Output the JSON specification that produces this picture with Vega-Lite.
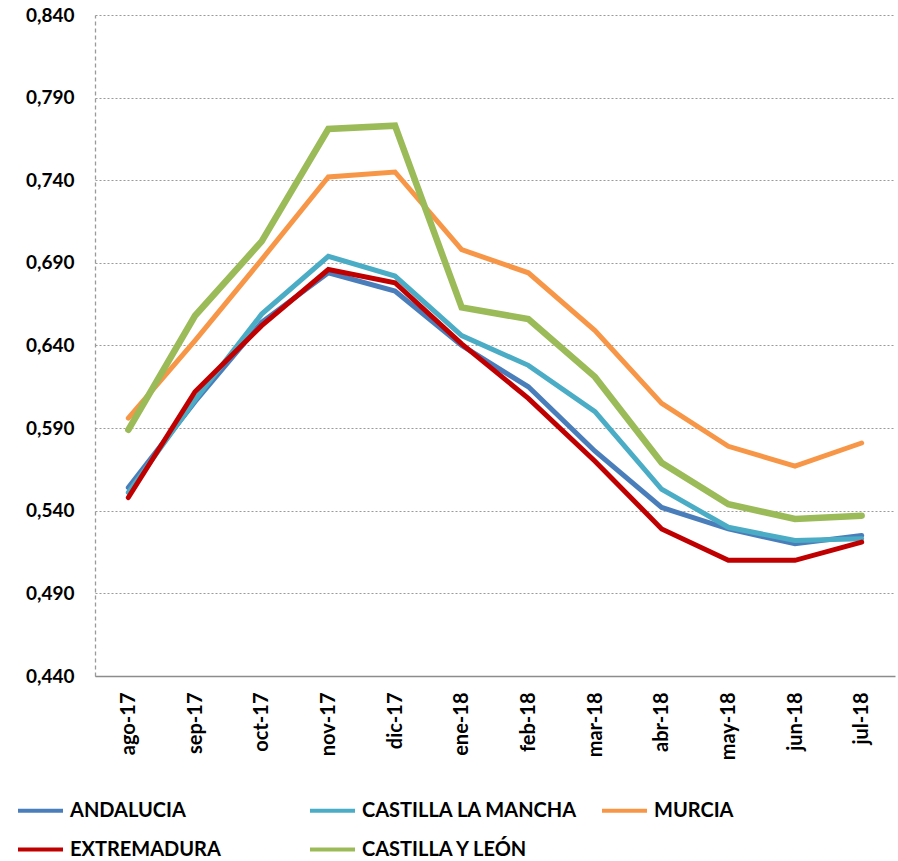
{
  "$schema": "https://vega.github.io/schema/vega-lite/v6.json",
  "width": 800,
  "height": 661,
  "autosize": {"type": "none"},
  "padding": {"left": 95, "top": 15, "right": 3, "bottom": 185},
  "background": "white",
  "config": {
    "view": {"stroke": null},
    "font": "Lato"
  },
  "data": {
    "values": [
      {"mes": "ago-17", "region": "ANDALUCIA", "valor": 0.554},
      {"mes": "sep-17", "region": "ANDALUCIA", "valor": 0.606},
      {"mes": "oct-17", "region": "ANDALUCIA", "valor": 0.654},
      {"mes": "nov-17", "region": "ANDALUCIA", "valor": 0.684},
      {"mes": "dic-17", "region": "ANDALUCIA", "valor": 0.673},
      {"mes": "ene-18", "region": "ANDALUCIA", "valor": 0.640},
      {"mes": "feb-18", "region": "ANDALUCIA", "valor": 0.615},
      {"mes": "mar-18", "region": "ANDALUCIA", "valor": 0.576},
      {"mes": "abr-18", "region": "ANDALUCIA", "valor": 0.542},
      {"mes": "may-18", "region": "ANDALUCIA", "valor": 0.529},
      {"mes": "jun-18", "region": "ANDALUCIA", "valor": 0.520},
      {"mes": "jul-18", "region": "ANDALUCIA", "valor": 0.525},
      {"mes": "ago-17", "region": "CASTILLA LA MANCHA", "valor": 0.551},
      {"mes": "sep-17", "region": "CASTILLA LA MANCHA", "valor": 0.607},
      {"mes": "oct-17", "region": "CASTILLA LA MANCHA", "valor": 0.659},
      {"mes": "nov-17", "region": "CASTILLA LA MANCHA", "valor": 0.694},
      {"mes": "dic-17", "region": "CASTILLA LA MANCHA", "valor": 0.682},
      {"mes": "ene-18", "region": "CASTILLA LA MANCHA", "valor": 0.646},
      {"mes": "feb-18", "region": "CASTILLA LA MANCHA", "valor": 0.628},
      {"mes": "mar-18", "region": "CASTILLA LA MANCHA", "valor": 0.600},
      {"mes": "abr-18", "region": "CASTILLA LA MANCHA", "valor": 0.553},
      {"mes": "may-18", "region": "CASTILLA LA MANCHA", "valor": 0.530},
      {"mes": "jun-18", "region": "CASTILLA LA MANCHA", "valor": 0.522},
      {"mes": "jul-18", "region": "CASTILLA LA MANCHA", "valor": 0.523},
      {"mes": "ago-17", "region": "MURCIA", "valor": 0.596},
      {"mes": "sep-17", "region": "MURCIA", "valor": 0.643},
      {"mes": "oct-17", "region": "MURCIA", "valor": 0.692},
      {"mes": "nov-17", "region": "MURCIA", "valor": 0.742},
      {"mes": "dic-17", "region": "MURCIA", "valor": 0.745},
      {"mes": "ene-18", "region": "MURCIA", "valor": 0.698},
      {"mes": "feb-18", "region": "MURCIA", "valor": 0.684},
      {"mes": "mar-18", "region": "MURCIA", "valor": 0.649},
      {"mes": "abr-18", "region": "MURCIA", "valor": 0.605},
      {"mes": "may-18", "region": "MURCIA", "valor": 0.579},
      {"mes": "jun-18", "region": "MURCIA", "valor": 0.567},
      {"mes": "jul-18", "region": "MURCIA", "valor": 0.581},
      {"mes": "ago-17", "region": "EXTREMADURA", "valor": 0.548},
      {"mes": "sep-17", "region": "EXTREMADURA", "valor": 0.612},
      {"mes": "oct-17", "region": "EXTREMADURA", "valor": 0.652},
      {"mes": "nov-17", "region": "EXTREMADURA", "valor": 0.686},
      {"mes": "dic-17", "region": "EXTREMADURA", "valor": 0.678},
      {"mes": "ene-18", "region": "EXTREMADURA", "valor": 0.641},
      {"mes": "feb-18", "region": "EXTREMADURA", "valor": 0.608},
      {"mes": "mar-18", "region": "EXTREMADURA", "valor": 0.570},
      {"mes": "abr-18", "region": "EXTREMADURA", "valor": 0.529},
      {"mes": "may-18", "region": "EXTREMADURA", "valor": 0.510},
      {"mes": "jun-18", "region": "EXTREMADURA", "valor": 0.510},
      {"mes": "jul-18", "region": "EXTREMADURA", "valor": 0.521},
      {"mes": "ago-17", "region": "CASTILLA Y LEÓN", "valor": 0.589},
      {"mes": "sep-17", "region": "CASTILLA Y LEÓN", "valor": 0.658},
      {"mes": "oct-17", "region": "CASTILLA Y LEÓN", "valor": 0.703},
      {"mes": "nov-17", "region": "CASTILLA Y LEÓN", "valor": 0.771},
      {"mes": "dic-17", "region": "CASTILLA Y LEÓN", "valor": 0.773},
      {"mes": "ene-18", "region": "CASTILLA Y LEÓN", "valor": 0.663},
      {"mes": "feb-18", "region": "CASTILLA Y LEÓN", "valor": 0.656},
      {"mes": "mar-18", "region": "CASTILLA Y LEÓN", "valor": 0.621},
      {"mes": "abr-18", "region": "CASTILLA Y LEÓN", "valor": 0.569},
      {"mes": "may-18", "region": "CASTILLA Y LEÓN", "valor": 0.544},
      {"mes": "jun-18", "region": "CASTILLA Y LEÓN", "valor": 0.535},
      {"mes": "jul-18", "region": "CASTILLA Y LEÓN", "valor": 0.537}
    ]
  },
  "encoding": {
    "x": {
      "field": "mes",
      "type": "ordinal",
      "sort": ["ago-17", "sep-17", "oct-17", "nov-17", "dic-17", "ene-18", "feb-18", "mar-18", "abr-18", "may-18", "jun-18", "jul-18"],
      "scale": {"type": "point", "padding": 0.5},
      "axis": {
        "title": null,
        "labelAngle": -90,
        "labelFont": "Lato",
        "labelFontWeight": "bold",
        "labelFontSize": 20,
        "labelColor": "#000000",
        "labelPadding": 16,
        "ticks": false,
        "grid": false,
        "domainColor": "#8c8c8c",
        "domainWidth": 1.5
      }
    },
    "y": {
      "field": "valor",
      "type": "quantitative",
      "scale": {"domain": [0.44, 0.84], "nice": false, "zero": false},
      "axis": {
        "title": null,
        "values": [0.44, 0.49, 0.54, 0.59, 0.64, 0.69, 0.74, 0.79, 0.84],
        "labelExpr": "replace(format(datum.value, '.3f'), '.', ',')",
        "labelFont": "Lato",
        "labelFontWeight": "bold",
        "labelFontSize": 19,
        "labelColor": "#000000",
        "labelPadding": 21,
        "ticks": false,
        "grid": true,
        "gridColor": "#9a9a9a",
        "gridDash": [2, 2],
        "gridWidth": 1.2,
        "domainColor": "#9a9a9a",
        "domainDash": [4, 3],
        "domainWidth": 1.3
      }
    },
    "color": {
      "field": "region",
      "type": "nominal",
      "scale": {
        "domain": ["ANDALUCIA", "CASTILLA LA MANCHA", "MURCIA", "EXTREMADURA", "CASTILLA Y LEÓN"],
        "range": ["#4a7ebb", "#4bacc6", "#f79646", "#c00000", "#9bbb59"]
      },
      "legend": {
        "title": null,
        "orient": "none",
        "legendX": -79,
        "legendY": 771,
        "direction": "horizontal",
        "columns": 3,
        "gridAlign": "all",
        "columnPadding": 16,
        "rowPadding": 4,
        "padding": 0,
        "symbolType": "stroke",
        "symbolSize": 2025,
        "symbolStrokeWidth": 4,
        "labelFont": "Lato",
        "labelFontWeight": "bold",
        "labelFontSize": 20,
        "labelColor": "#000000",
        "labelOffset": 5,
        "labelLimit": 400
      }
    }
  },
  "layer": [
    {
      "transform": [{"filter": "datum.region !== 'CASTILLA Y LEÓN'"}],
      "mark": {"type": "line", "strokeWidth": 5, "strokeCap": "round"}
    },
    {
      "transform": [{"filter": "datum.region === 'CASTILLA Y LEÓN'"}],
      "mark": {"type": "line", "strokeWidth": 6.5, "strokeCap": "round"}
    }
  ]
}
